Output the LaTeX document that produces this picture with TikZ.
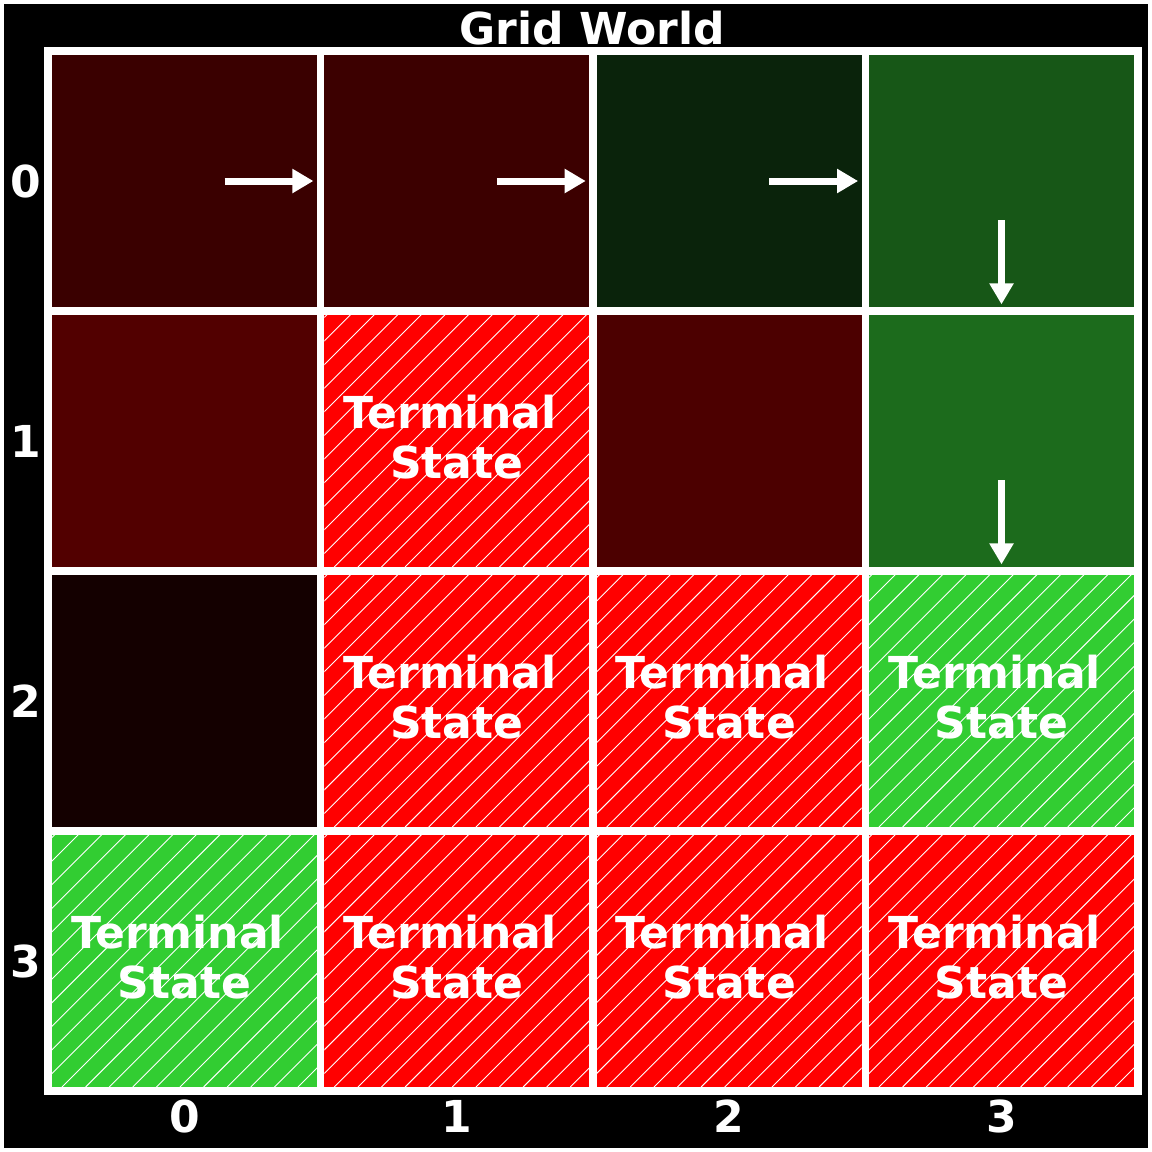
\documentclass[tikz,border=0pt]{standalone}
\usepackage{fontspec}
\setmainfont{DejaVu Sans}
\usetikzlibrary{arrows.meta}

\definecolor{valA}{RGB}{58,0,0}
\definecolor{valB}{RGB}{60,0,0}
\definecolor{valC}{RGB}{10,35,11}
\definecolor{valD}{RGB}{23,87,23}
\definecolor{valE}{RGB}{82,0,0}
\definecolor{valF}{RGB}{76,0,0}
\definecolor{valG}{RGB}{28,107,28}
\definecolor{valH}{RGB}{20,0,0}
\definecolor{lose}{RGB}{255,0,0}
\definecolor{win}{RGB}{50,205,50}

\begin{document}
\begin{tikzpicture}[
  x=0.5pt,
  y=-0.5pt,
  cell/.style={
    minimum width=132.5pt,
    minimum height=126pt,
    inner sep=0pt,
    align=center,
    text=white,
    font=\fontsize{22}{25}\selectfont\bfseries
  },
  terminal/.style={
    cell,
    text depth=4pt,
    path picture={
      \foreach \k in {-12,...,12}
        \draw[white, line width=0.45pt]
          ([xshift=\k*11.8pt+5pt]path picture bounding box.south west) -- ++(140pt,140pt);
    }
  },
  lbl/.style={text=white, inner sep=0pt, font=\fontsize{22}{25}\selectfont\bfseries},
  policy/.style={-{Triangle[width=11.5pt,length=10.5pt]}, line width=3.5pt, draw=white}
]
\useasboundingbox (0,0) rectangle (1152,1152);
\fill[white] (0,0) rectangle (1152,1152);
\fill[black] (4,4) rectangle (1148,1148);
\fill[white] (44,47) rectangle (1142,1095);

% row 0
\node[cell, fill=valA] (s00) at (184.5,181) {};
\node[cell, fill=valB] (s01) at (456.8,181) {};
\node[cell, fill=valC] (s02) at (729.2,181) {};
\node[cell, fill=valD] (s03) at (1001.5,181) {};

% row 1
\node[cell, fill=valE] (s10) at (184.5,441) {};
\node[terminal, fill=lose] (s11) at (456.8,441) {Terminal\kern.32em\\State};
\node[cell, fill=valF] (s12) at (729.2,441) {};
\node[cell, fill=valG] (s13) at (1001.5,441) {};

% row 2
\node[cell, fill=valH] (s20) at (184.5,701) {};
\node[terminal, fill=lose] (s21) at (456.8,701) {Terminal\kern.32em\\State};
\node[terminal, fill=lose] (s22) at (729.2,701) {Terminal\kern.32em\\State};
\node[terminal, fill=win] (s23) at (1001.5,701) {Terminal\kern.32em\\State};

% row 3
\node[terminal, fill=win] (s30) at (184.5,961) {Terminal\kern.32em\\State};
\node[terminal, fill=lose] (s31) at (456.8,961) {Terminal\kern.32em\\State};
\node[terminal, fill=lose] (s32) at (729.2,961) {Terminal\kern.32em\\State};
\node[terminal, fill=lose] (s33) at (1001.5,961) {Terminal\kern.32em\\State};

% greedy policy
\draw[policy] ([xshift=20pt]s00.center) -- ([xshift=-2pt]s00.east);
\draw[policy] ([xshift=20pt]s01.center) -- ([xshift=-2pt]s01.east);
\draw[policy] ([xshift=20pt]s02.center) -- ([xshift=-2pt]s02.east);
\draw[policy] ([yshift=-19.5pt]s03.center) -- ([yshift=1.5pt]s03.south);
\draw[policy] ([yshift=-19.5pt]s13.center) -- ([yshift=1.5pt]s13.south);

% axes
\node[lbl, anchor=base] (title) at (592,44) {Grid World};
\node[lbl] (row0) at (26,181) {0};
\node[lbl] (row1) at (26,441) {1};
\node[lbl] (row2) at (26,701) {2};
\node[lbl] (row3) at (26,961) {3};
\node[lbl] (col0) at (184.5,1116) {0};
\node[lbl] (col1) at (456.8,1116) {1};
\node[lbl] (col2) at (729.2,1116) {2};
\node[lbl] (col3) at (1001.5,1116) {3};
\end{tikzpicture}
\end{document}
